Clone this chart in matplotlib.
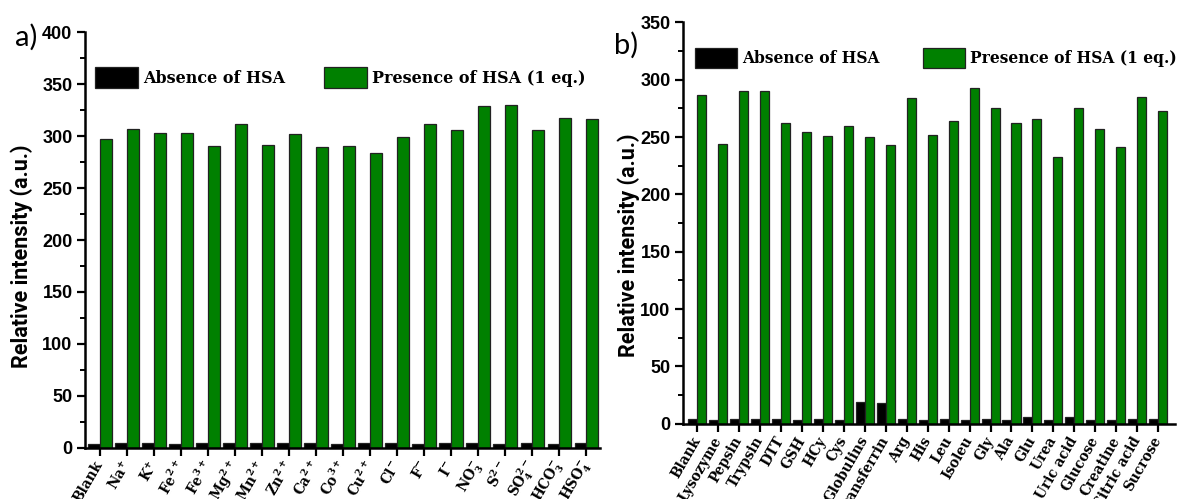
import matplotlib
matplotlib.use("Agg")
import matplotlib.pyplot as plt
from matplotlib.patches import Patch
from matplotlib.ticker import MultipleLocator
import numpy as np

# ---- data -------------------------------------------------------------
ions = ["Blank", "Na$^{+}$", "K$^{+}$", "Fe$^{2+}$", "Fe$^{3+}$", "Mg$^{2+}$",
        "Mn$^{2+}$", "Zn$^{2+}$", "Ca$^{2+}$", "Co$^{3+}$", "Cu$^{2+}$",
        "Cl$^{-}$", "F$^{-}$", "I$^{-}$", "NO$_{3}^{-}$", "S$^{2-}$",
        "SO$_{4}^{2-}$", "HCO$_{3}^{-}$", "HSO$_{4}^{-}$"]
ions_absence = [4, 5, 5, 4, 4.5, 4.5, 4.5, 5, 4.5, 4, 5, 4.5, 4, 4.5, 4.5,
                3.5, 5, 4, 4.5]
ions_presence = [297, 307, 303, 303, 290, 312, 291, 302, 289, 290, 284,
                 299, 312, 306, 329, 330, 306, 317, 316]

biomolecules = ["Blank", "Lysozyme", "Pepsin", "Trypsin", "DTT", "GSH", "HCy",
                "Cys", "Globulins", "Transferrin", "Arg", "His", "Leu",
                "Isoleu", "Gly", "Ala", "Glu", "Urea", "Uric acid", "Glucose",
                "Creatine", "Citric acid", "Sucrose"]
bio_absence = [4, 3, 4.5, 4, 4, 3, 4.5, 3, 19, 18, 4, 3.5, 4, 3.5, 4, 3.5,
               5.5, 3, 5.5, 3.5, 3.5, 4.5, 4]
bio_presence = [287, 244, 290, 290, 262, 254, 251, 260, 250, 243, 284, 252,
                264, 293, 275, 262, 266, 233, 275, 257, 241, 285, 273]

series_labels = ["Absence of HSA", "Presence of HSA (1 eq.)"]
series_colors = ["#000000", "#008000"]

# ---- style ------------------------------------------------------------
plt.rcParams.update({
    "mathtext.fontset": "custom",
    "mathtext.rm": "DejaVu Serif:bold",
    "mathtext.it": "DejaVu Serif:bold",
    "mathtext.bf": "DejaVu Serif:bold",
    "mathtext.default": "rm",
})

W, H = 1179, 499
fig = plt.figure(figsize=(W / 100, H / 100), dpi=100)


def px_axes(x0, x1, y_top, y_bot):
    return fig.add_axes([x0 / W, 1 - y_bot / H, (x1 - x0) / W, (y_bot - y_top) / H])


def draw_panel(ax, cats, absent, present, ymax, xlim, width, leg_anchor, colspace,
               leg_size, tick_size):
    x = np.arange(len(cats))
    ax.bar(x - width / 2, absent, width, color=series_colors[0],
           edgecolor="#222222", linewidth=0.9, zorder=2)
    ax.bar(x + width / 2, present, width, color=series_colors[1],
           edgecolor="#222222", linewidth=0.9, zorder=2)
    ax.set_xlim(*xlim)
    ax.set_ylim(0, ymax)
    ax.set_xticks(x)
    ax.set_xticklabels(cats, rotation=60, ha="right", va="center",
                       rotation_mode="anchor", fontsize=tick_size,
                       family="DejaVu Serif", fontweight="bold")
    ax.yaxis.set_major_locator(MultipleLocator(50))
    ax.yaxis.set_minor_locator(MultipleLocator(25))
    for lab in ax.get_yticklabels():
        lab.set_family("Liberation Sans")
        lab.set_fontweight("bold")
        lab.set_fontsize(13)
    for s in ("top", "right"):
        ax.spines[s].set_visible(False)
    for s in ("left", "bottom"):
        ax.spines[s].set_linewidth(1.8)
    ax.tick_params(axis="both", which="major", direction="out", length=6,
                   width=1.6, pad=3)
    ax.tick_params(axis="y", which="minor", direction="out", length=3.5,
                   width=1.4)
    ax.tick_params(axis="x", which="major", pad=4)
    ax.set_ylabel("Relative intensity (a.u.)", family="Roboto",
                  fontweight="bold", fontsize=15.5)
    handles = [Patch(facecolor=c, edgecolor="#222222", linewidth=0.9)
               for c in series_colors]
    ax.legend(handles, series_labels, ncol=2, frameon=False, loc="upper left",
              bbox_to_anchor=leg_anchor, borderpad=0, borderaxespad=0,
              handlelength=2.7, handleheight=1.6, handletextpad=0.3,
              columnspacing=colspace,
              prop={"family": "DejaVu Serif", "weight": "bold", "size": leg_size})


ax_a = px_axes(85, 600, 32, 448)
draw_panel(ax_a, ions, ions_absence, ions_presence, 400, (-0.55, 18.5), 0.44,
           (0.02, 0.915), 2.4, 11.5, 9.8)
ax_a.yaxis.set_label_coords(-0.101, 0.46)

ax_b = px_axes(683, 1175, 22.3, 423.8)
draw_panel(ax_b, biomolecules, bio_absence, bio_presence, 350, (-0.67, 22.8),
           0.43, (0.025, 0.935), 2.8, 11.2, 9.8)
ax_b.yaxis.set_label_coords(-0.087, 0.445)

fig.text(26 / W, 1 - 37 / H, "a)", family="Lato", fontsize=21,
         ha="center", va="center")
fig.text(626 / W, 1 - 45 / H, "b)", family="Lato", fontsize=21,
         ha="center", va="center")

fig.savefig("out.png", dpi=100)
